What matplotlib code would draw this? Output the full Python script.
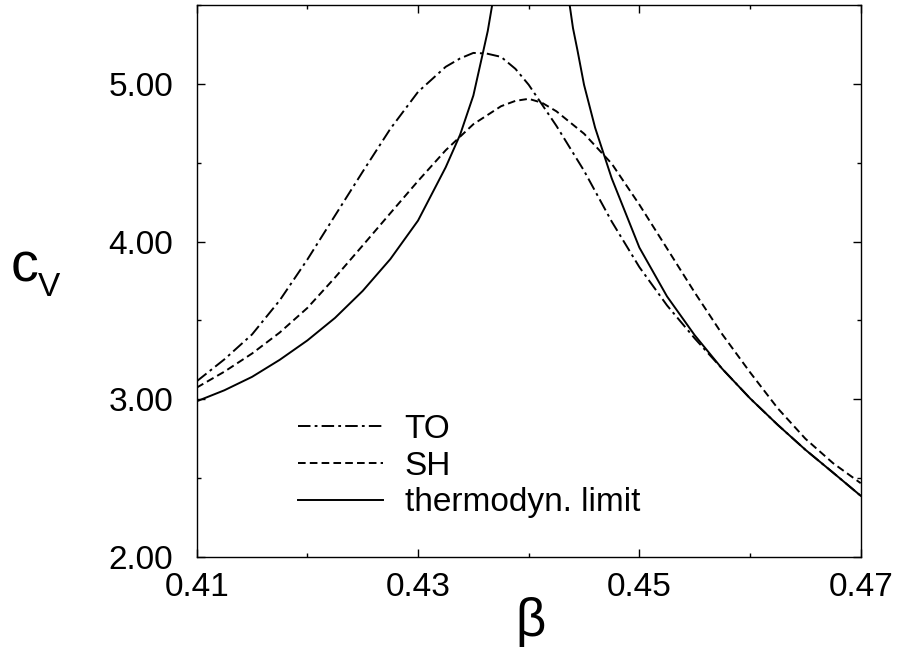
import numpy as np
import matplotlib
matplotlib.use("Agg")
import matplotlib.pyplot as plt
from matplotlib.ticker import FixedLocator, MultipleLocator, FormatStrFormatter

# --- values ---
beta_to = [0.4100, 0.4125, 0.4150, 0.4175, 0.4200, 0.4225, 0.4250, 0.4275,
           0.4300, 0.4325, 0.4338, 0.4350, 0.4362, 0.4375, 0.4388, 0.4400,
           0.4425, 0.4450, 0.4475, 0.4500, 0.4525, 0.4550, 0.4575, 0.4600,
           0.4625, 0.4650, 0.4675, 0.4700]
cv_to = [3.114, 3.253, 3.411, 3.627, 3.886, 4.165, 4.443, 4.715,
         4.949, 5.108, 5.161, 5.196, 5.192, 5.171, 5.095, 4.994,
         4.734, 4.449, 4.127, 3.838, 3.595, 3.386, 3.192, 3.006,
         2.838, 2.680, 2.535, 2.388]

beta_sh = [0.4100, 0.4125, 0.4150, 0.4175, 0.4200, 0.4225, 0.4250, 0.4275,
           0.4300, 0.4325, 0.4350, 0.4375, 0.4388, 0.4400, 0.4412, 0.4425,
           0.4450, 0.4475, 0.4500, 0.4525, 0.4550, 0.4575, 0.4600, 0.4625,
           0.4650, 0.4675, 0.4700]
cv_sh = [3.074, 3.175, 3.290, 3.423, 3.579, 3.772, 3.975, 4.180,
         4.384, 4.579, 4.744, 4.858, 4.892, 4.905, 4.880, 4.826,
         4.684, 4.494, 4.234, 3.956, 3.677, 3.411, 3.171, 2.943,
         2.750, 2.595, 2.468]

# thermodynamic limit: two branches, gap where it runs off the top
beta_tl = [0.4100, 0.4125, 0.4150, 0.4175, 0.4200, 0.4225, 0.4250, 0.4275,
           0.4300, 0.4325, 0.4338, 0.4350, 0.4358, 0.4363, 0.4367, np.nan,
           0.4437, 0.4440, 0.4444, 0.4450, 0.4460, 0.4475, 0.4500, 0.4525,
           0.4550, 0.4575, 0.4600, 0.4625, 0.4650, 0.4675, 0.4700]
cv_tl = [2.987, 3.057, 3.142, 3.250, 3.373, 3.516, 3.687, 3.889,
         4.133, 4.471, 4.677, 4.926, 5.177, 5.335, 5.500, np.nan,
         5.500, 5.354, 5.215, 4.994, 4.722, 4.401, 3.962, 3.652,
         3.406, 3.192, 3.006, 2.838, 2.680, 2.535, 2.388]

series_labels = ["TO", "SH", "thermodyn. limit"]
x_major = [0.41, 0.43, 0.45, 0.47]
x_minor = [0.42, 0.44, 0.46]
y_major = [2.0, 3.0, 4.0, 5.0]

plt.rcParams['font.family'] = ['Liberation Sans', 'DejaVu Sans']
plt.rcParams['lines.scale_dashes'] = False

fig = plt.figure(figsize=(8.99, 6.63), dpi=100)
ax = fig.add_axes([0.2188, 0.1599, 0.7386, 0.8326])

ax.plot(beta_to, cv_to, color='black', lw=1.4, dashes=(9, 3, 2, 3), label=series_labels[0])
ax.plot(beta_sh, cv_sh, color='black', lw=1.4, dashes=(5.5, 3), label=series_labels[1])
ax.plot(beta_tl, cv_tl, color='black', lw=1.4, label=series_labels[2])

ax.set_xlim(0.41, 0.47)
ax.set_ylim(2.0, 5.5)
ax.xaxis.set_major_locator(FixedLocator(x_major))
ax.xaxis.set_minor_locator(FixedLocator(x_minor))
ax.yaxis.set_major_locator(FixedLocator(y_major))
ax.yaxis.set_minor_locator(MultipleLocator(0.5))
ax.xaxis.set_major_formatter(FormatStrFormatter('%.2f'))
ax.yaxis.set_major_formatter(FormatStrFormatter('%.2f'))

ax.tick_params(which='both', direction='in', top=True, right=True, width=1.0)
ax.tick_params(which='major', length=6, labelsize=24)
ax.tick_params(which='minor', length=3)
ax.tick_params(axis='x', which='major', pad=11)
ax.tick_params(axis='y', which='major', pad=17)
for s in ax.spines.values():
    s.set_linewidth(1.0)

# axis labels
fig.text(0.012, 0.575, 'c', fontsize=40, ha='left', va='baseline')
fig.text(0.042, 0.553, 'V', fontsize=24, ha='left', va='baseline')
fig.text(0.590, 0.040, 'β', fontsize=38, ha='center', va='baseline')

ax.legend(loc='lower left', bbox_to_anchor=(0.152, 0.070), frameon=False,
          fontsize=24, handlelength=2.55, handletextpad=0.66,
          labelspacing=0.175, borderpad=0, borderaxespad=0)

fig.savefig('out.png', dpi=100)
